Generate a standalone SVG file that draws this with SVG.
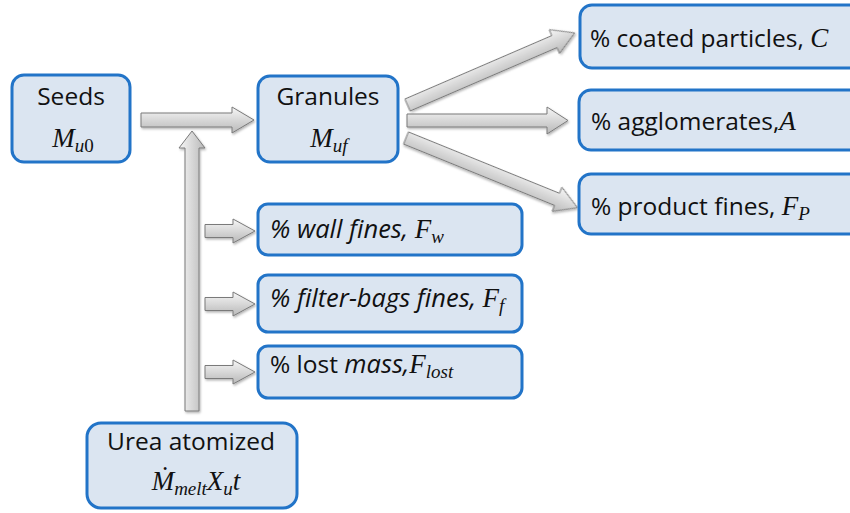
<svg xmlns="http://www.w3.org/2000/svg" width="850" height="513" viewBox="0 0 850 513">
<defs>
<linearGradient id="ag" x1="0" y1="0" x2="0" y2="1">
<stop offset="0" stop-color="#f7f7f7"/>
<stop offset="1" stop-color="#b8b8b8"/>
</linearGradient>
<linearGradient id="agv" x1="0" y1="0" x2="1" y2="0">
<stop offset="0" stop-color="#f7f7f7"/>
<stop offset="1" stop-color="#b8b8b8"/>
</linearGradient>
<filter id="sh" x="-20%" y="-20%" width="140%" height="140%">
<feDropShadow dx="1" dy="1.5" stdDeviation="1.2" flood-color="#000" flood-opacity="0.3"/>
</filter>
</defs>
<style>
.box{fill:#dbe5f1;stroke:#2274c8;stroke-width:3}
.arr{fill:url(#ag);stroke:#7a7a7a;stroke-width:1;filter:url(#sh)}
.arrv{fill:url(#agv);stroke:#7a7a7a;stroke-width:1;filter:url(#sh)}
.t{font-family:"Open Sans","Noto Sans",sans-serif;font-size:24.5px;fill:#111}
.it{font-style:italic;font-size:25.5px}
.m{font-family:"Liberation Serif","DejaVu Serif",serif;font-style:italic;font-size:27px;fill:#111}
.sub{font-size:19px}
</style>
<rect width="850" height="513" fill="#ffffff"/>

<g id="connectors">
<polygon class="arr" points="141,113 232,113 232,107 254,120 232,133 232,127 141,127"/>
<polygon class="arrv" points="185,411 185,148 179,148 192,131 205,148 199,148 199,411"/>
<polygon class="arr" points="205,224.5 233,224.5 233,219 255,231 233,243 233,237.5 205,237.5"/>
<polygon class="arr" points="205,297.5 233,297.5 233,292 255,304 233,316 233,310.5 205,310.5"/>
<polygon class="arr" points="205,365.5 233,365.5 233,360 255,372 233,384 233,378.5 205,378.5"/>
<polygon class="arr" points="407,114 547,114 547,107 568,120.5 547,134 547,127 407,127"/>
<polygon class="arr" transform="translate(407.5,105) rotate(-23.35)" points="0,-6.5 160,-6.5 160,-13 182,0 160,13 160,6.5 0,6.5"/>
<polygon class="arr" transform="translate(406,138) rotate(22.1)" points="0,-6.5 163,-6.5 163,-13 185,0 163,13 163,6.5 0,6.5"/>
</g>

<g id="seeds">
<rect class="box" x="12" y="75" width="118" height="87" rx="12"/>
<text class="t" x="71" y="105" text-anchor="middle">Seeds</text>
<text class="m" x="73" y="147" text-anchor="middle">M<tspan class="sub" dy="5">u</tspan><tspan class="sub" font-style="normal">0</tspan></text>
</g>

<g id="granules">
<rect class="box" x="258" y="76" width="140" height="86" rx="12"/>
<text class="t" x="328" y="105" text-anchor="middle">Granules</text>
<text class="m" x="329" y="147" text-anchor="middle">M<tspan class="sub" dy="5">uf</tspan></text>
</g>

<g id="urea">
<rect class="box" x="87" y="423" width="210" height="85" rx="14"/>
<text class="t" x="191" y="450" text-anchor="middle">Urea atomized</text>
<text class="m" x="196" y="490" text-anchor="middle">Ṁ<tspan class="sub" dy="5">melt</tspan><tspan dy="-5">X</tspan><tspan class="sub" dy="5">u</tspan><tspan dy="-5">t</tspan></text>
</g>

<g id="coated">
<rect class="box" x="580" y="5" width="285" height="63" rx="12"/>
<text class="t" x="590" y="47">% coated particles, <tspan class="m">C</tspan></text>
</g>

<g id="agglomerates">
<rect class="box" x="579" y="90" width="285" height="60" rx="12"/>
<text class="t" x="591" y="130">% agglomerates,<tspan class="m">A</tspan></text>
</g>

<g id="productfines">
<rect class="box" x="579" y="174" width="285" height="60" rx="12"/>
<text class="t" x="591" y="215">% product fines, <tspan class="m">F</tspan><tspan class="m sub" dy="5">P</tspan></text>
</g>

<g id="wallfines">
<rect class="box" x="258" y="204" width="264" height="51" rx="10"/>
<text class="t it" x="270" y="238">% wall fines, <tspan class="m">F</tspan><tspan class="m sub" dy="5">w</tspan></text>
</g>

<g id="filterbags">
<rect class="box" x="258" y="275" width="264" height="57" rx="10"/>
<text class="t it" x="270" y="307">% filter-bags fines, <tspan class="m">F</tspan><tspan class="m sub" dy="5">f</tspan></text>
</g>

<g id="lostmass">
<rect class="box" x="258" y="346" width="264" height="52" rx="10"/>
<text class="t" x="270" y="373">% lost <tspan class="it">mass,</tspan><tspan class="m">F</tspan><tspan class="m sub" dy="5">lost</tspan></text>
</g>
</svg>
